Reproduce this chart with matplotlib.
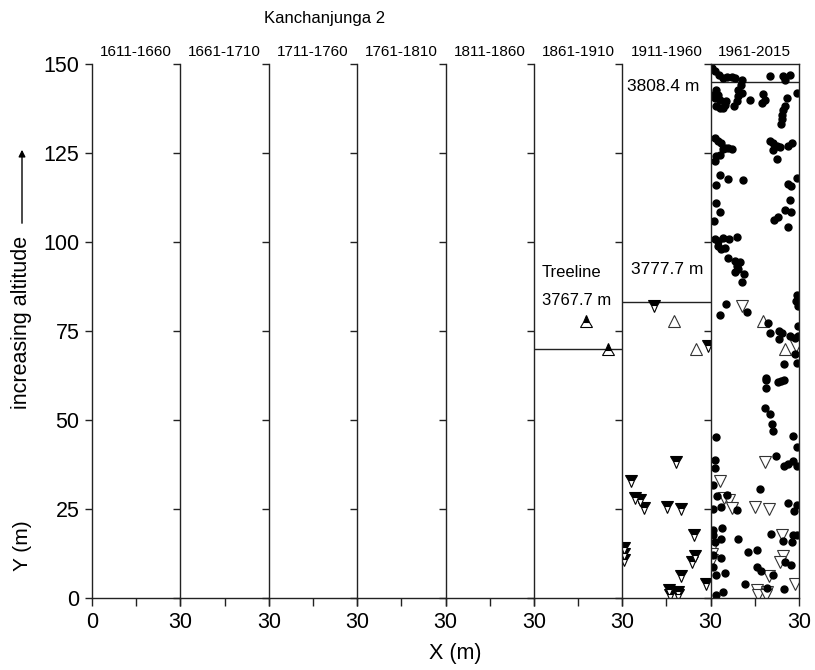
import matplotlib
matplotlib.use("Agg")
import matplotlib.pyplot as plt

plt.rcParams['font.family'] = ['Liberation Sans', 'DejaVu Sans']

# census periods, one panel each
periods = ['1611-1660', '1661-1710', '1711-1760', '1761-1810',
           '1811-1860', '1861-1910', '1911-1960', '1961-2015']

# treeline position (Y in m) for the last three periods
treeline_panels = [5, 6, 7]
treeline_y = [70.0, 83.2, 145.0]

# trees established 1961-2015 (dots, last panel only)
dots_x = [0.5, 1.4, 2.7, 4.2, 5.7, 7.1, 8.2, 10.5, 10.2, 9.3, 10.5, 9.3, 8.8, 8.0,
          1.9, 0.8, 1.4, 2.5, 3.1, 1.9, 3.1, 4.2, 4.8, 5.3,
          13.3, 17.8, 18.4, 17.3, 20.1, 24.7, 25.2, 26.9,
          29.2, 25.8, 25.2, 24.7, 24.3, 24.1, 23.9,
          1.4, 2.5, 3.6, 4.8, 5.9, 7.1, 4.2, 3.1, 1.9, 1.4,
          20.1, 21.2, 22.4, 23.5, 21.2, 22.4, 27.5, 26.4,
          3.1, 5.9, 11.0, 1.9, 29.2, 26.1, 27.3,
          1.9, 3.1, 1.1, 26.9, 25.2, 27.3, 22.7, 21.6, 26.1,
          1.4, 2.5, 4.2, 6.1, 9.1, 2.5, 3.6, 4.8, 5.9, 8.2, 9.9, 8.8, 9.3, 8.4, 11.4, 10.5,
          29.2, 28.9, 29.8, 5.3, 3.1, 12.2,
          19.3, 20.1, 23.2, 24.3, 26.9, 29.8,
          28.6, 29.5, 23.2, 28.6, 25.0, 29.2,
          18.8, 18.8, 18.8, 22.7, 23.9, 24.8,
          18.4, 20.1, 20.7, 21.3, 1.9, 28.1, 29.2,
          22.1, 25.0, 26.4, 28.1, 29.2, 1.4, 1.6,
          0.8, 2.3, 5.7, 8.8, 3.6, 0.8, 16.7, 26.4, 29.2, 28.4,
          0.8, 3.9, 3.6, 0.8, 9.3, 20.5, 28.1, 29.2, 24.7, 27.5,
          3.6, 12.7, 15.9, 25.2, 27.3, 15.9, 17.1, 21.2, 1.9, 4.8,
          11.6, 25.0, 4.2, 1.9, 19.0, 0.8, 0.8, 1.4]
dots_y = [149.0, 148.1, 146.9, 146.0, 146.4, 146.4, 146.2, 145.5, 144.1, 142.7, 141.8, 140.9, 139.5, 138.3,
          142.7, 141.3, 140.4, 141.3, 139.9, 138.1, 137.7, 137.7, 138.5, 139.5,
          139.9, 141.5, 139.9, 139.0, 146.6, 146.6, 145.5, 146.9,
          141.8, 140.4, 138.1, 137.1, 135.7, 134.5, 133.2,
          129.2, 128.3, 127.8, 126.4, 126.4, 126.0, 126.0, 124.5, 124.1, 122.7,
          128.3, 127.8, 127.1, 126.7, 125.8, 123.3, 127.8, 127.1,
          118.9, 117.7, 117.5, 115.9, 118.1, 116.3, 115.7,
          110.9, 108.3, 105.8, 111.7, 109.1, 108.3, 107.0, 106.3, 104.2,
          100.7, 100.2, 101.1, 100.7, 101.4, 98.8, 98.1, 98.4, 95.5, 94.6, 94.3, 93.2, 92.5, 91.5, 91.1, 88.7,
          85.0, 83.4, 82.0, 82.5, 79.4, 80.3,
          77.2, 74.5, 75.0, 74.3, 73.6, 76.4,
          72.9, 73.6, 72.7, 68.5, 65.7, 65.9,
          61.9, 61.1, 59.1, 60.6, 61.0, 61.2,
          53.5, 51.7, 48.9, 47.0, 45.1, 45.4, 42.3,
          40.0, 37.2, 37.6, 38.6, 37.2, 38.8, 36.6,
          31.6, 28.6, 29.0, 24.6, 25.5, 25.1, 30.5, 26.8, 26.0, 24.4,
          19.0, 19.6, 16.5, 17.6, 16.7, 18.1, 17.6, 17.8, 16.0, 15.8,
          11.1, 12.8, 13.4, 10.0, 9.2, 8.8, 7.6, 6.4, 6.4, 6.9,
          3.8, 2.5, 1.6, 0.7, 2.9, 12.0, 8.8, 15.7]

# trees present since 1911-1960 (down triangles)
down_x = [3.1, 4.4, 6.1, 7.4, 15.2, 19.8, 24.2, 24.6, 23.5, 19.8,
          15.8, 16.2, 19.0, 18.8, 28.5, 18.3, 10.8, 29.1, 0.5, 0.5, 0.5]
down_y = [32.8, 28.2, 27.4, 25.4, 25.5, 25.0, 17.8, 11.8, 10.0, 6.3,
          2.2, 0.9, 1.7, 0.8, 3.8, 38.2, 82.0, 70.8, 14.0, 12.3, 10.8]

# trees present since 1861-1910 (up triangles)
up_x = [17.7, 25.1]
up_y = [77.8, 69.9]

fig = plt.figure(figsize=(8.15, 6.70), dpi=100)
axes = fig.subplots(1, len(periods), sharey=True, gridspec_kw=dict(wspace=0))
fig.subplots_adjust(left=0.1129, right=0.9804, bottom=0.1075, top=0.9045)

line_c = '#222222'
for i, (ax, period) in enumerate(zip(axes, periods)):
    ax.set_xlim(0, 30)
    ax.set_ylim(0, 150)
    last = i == len(periods) - 1
    ax.spines['top'].set_visible(last)
    ax.spines['right'].set_visible(last)
    for s in ax.spines.values():
        s.set_linewidth(1.0)
        s.set_color(line_c)
    ax.set_xticks([0, 15, 30])
    ax.set_xticklabels(['0' if i == 0 else '', '', '30'])
    ax.set_yticks(range(0, 151, 25))
    ax.tick_params(direction='out', length=5, width=1.0, color=line_c,
                   labelsize=15.5, pad=4)
    ax.tick_params(axis='x', length=6, pad=4)
    if i > 0:
        ax.tick_params(labelleft=False)
    ax.set_title(period, fontsize=11, pad=6)

# treelines
for p, ty in zip(treeline_panels, treeline_y):
    axes[p].axhline(ty, color=line_c, lw=1.0)

# markers
axes[5].plot(up_x, up_y, '^', ms=8, fillstyle='top', markerfacecolor='black',
             markerfacecoloralt='white', markeredgecolor='black', mew=0.8)
axes[6].plot(up_x, up_y, '^', ms=8, markerfacecolor='white',
             markeredgecolor='#333333', mew=0.8)
axes[6].plot(down_x, down_y, 'v', ms=8, fillstyle='top', markerfacecolor='black',
             markerfacecoloralt='white', markeredgecolor='black', mew=0.8)
axes[7].plot(up_x, up_y, '^', ms=8, markerfacecolor='white',
             markeredgecolor='#333333', mew=0.8)
axes[7].plot(down_x, down_y, 'v', ms=8, markerfacecolor='white',
             markeredgecolor='#333333', mew=0.8)
axes[7].plot(dots_x, dots_y, 'o', ms=5, color='black')

# treeline labels
axes[5].text(2.7, 91.5, 'Treeline', fontsize=12, va='center')
axes[5].text(2.6, 83.7, '3767.7 m', fontsize=12, va='center')
axes[6].text(3.0, 92.2, '3777.7 m', fontsize=12.5, va='center')
axes[6].text(1.7, 143.6, '3808.4 m', fontsize=12.5, va='center')

fig.text(325 / 815, 1 - 18 / 670, 'Kanchanjunga 2', fontsize=12,
         ha='center', va='center')
fig.text(455 / 815, 1 - 654 / 670, 'X (m)', fontsize=15.5, ha='center', va='center')
fig.text(22 / 815, 1 - 546 / 670, 'Y (m)', fontsize=15, rotation=90,
         ha='center', va='center')
fig.text(22 / 815, 1 - 322 / 670, 'increasing altitude', fontsize=15.5, rotation=90,
         ha='center', va='center')
axes[0].annotate('', xy=(22 / 815, 1 - 147 / 670), xytext=(22 / 815, 1 - 226 / 670),
                 xycoords='figure fraction', textcoords='figure fraction',
                 arrowprops=dict(arrowstyle='-|>', color='black', lw=1.0,
                                 mutation_scale=10))

fig.savefig('out.png', dpi=100)
